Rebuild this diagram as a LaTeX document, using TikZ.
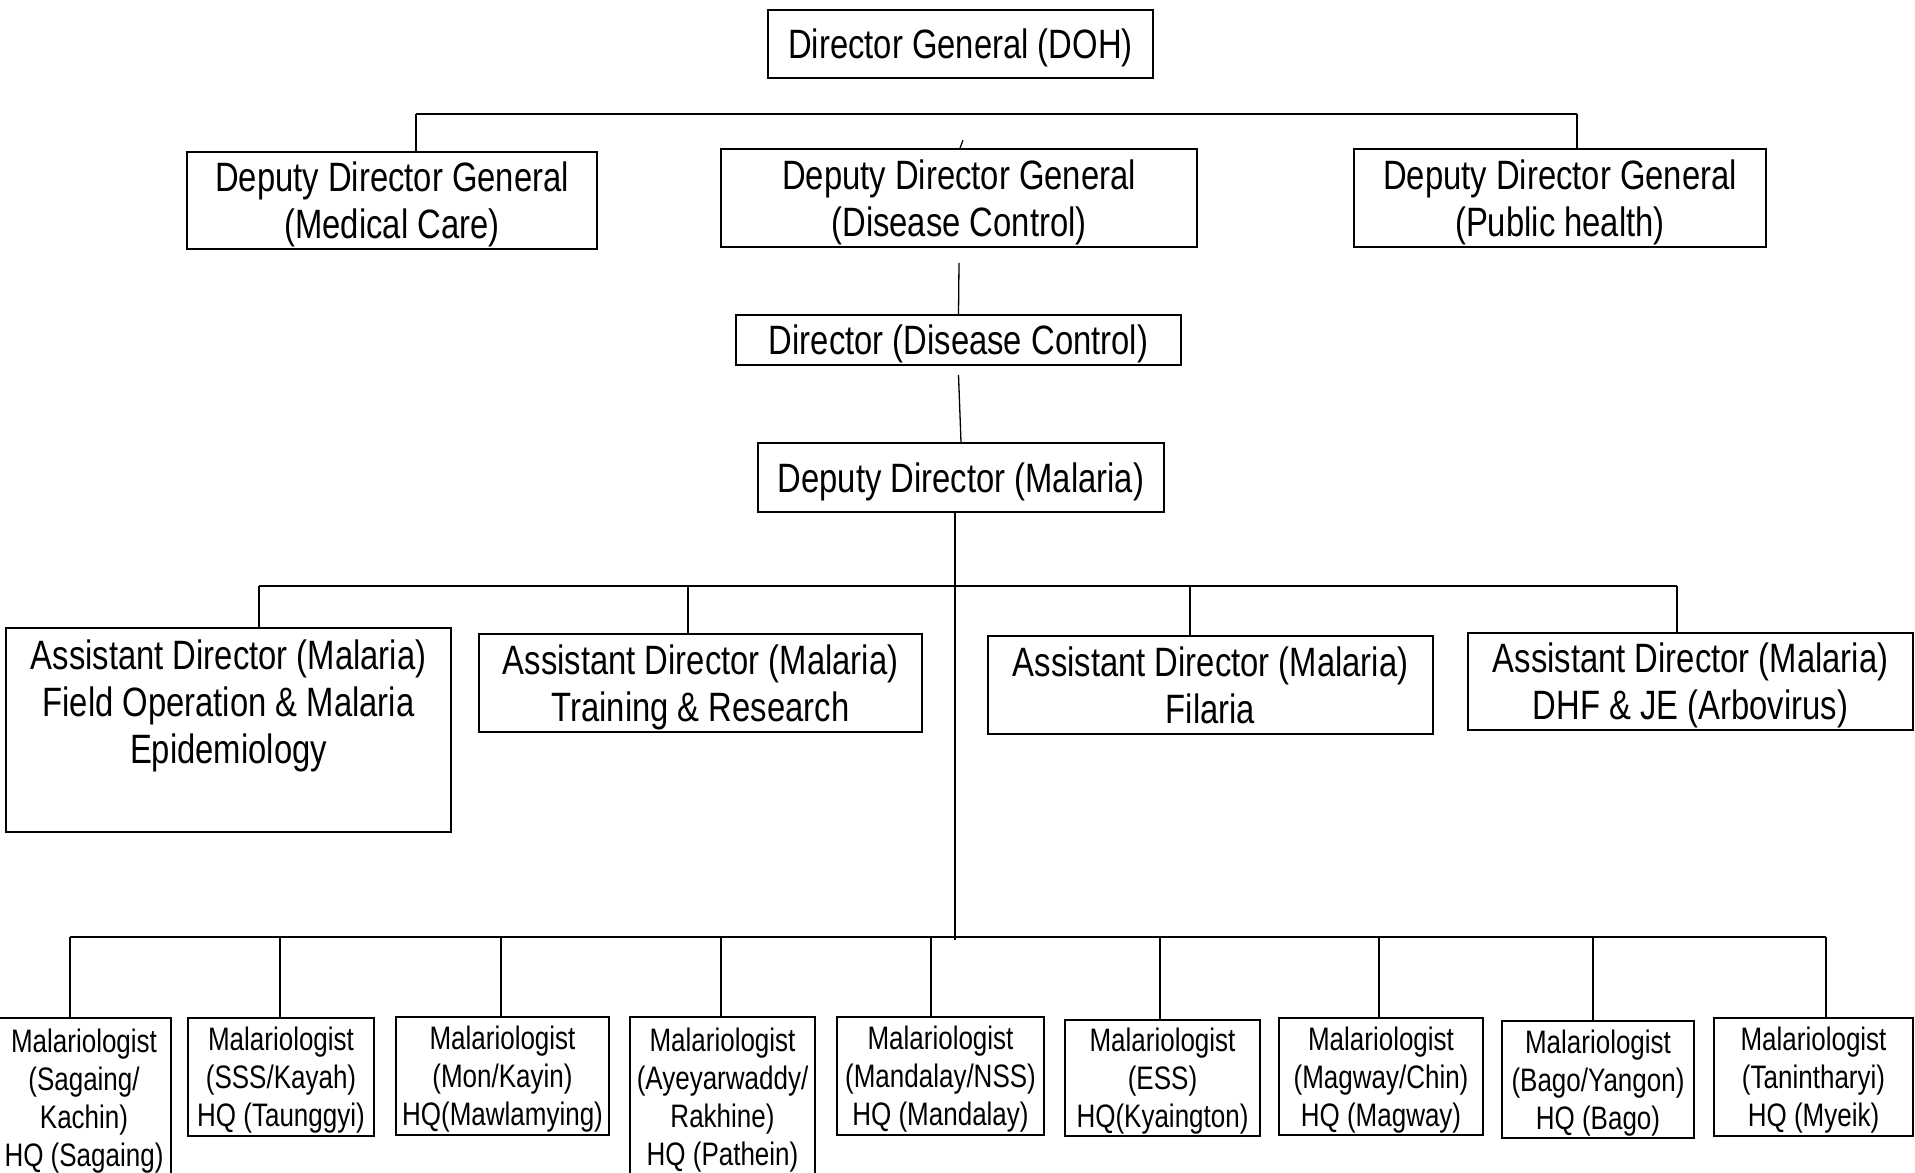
\documentclass[tikz,border=0pt]{standalone}
\usepackage{fontspec}
\setmainfont{Liberation Sans}[FakeStretch=0.8]
\usetikzlibrary{calc}

\begin{document}
\begin{tikzpicture}[x=1pt, y=-1pt,
    post/.style={draw, line width=1.6pt, inner sep=0pt, align=center, text depth=0pt,
      font=\fontsize{41}{47}\selectfont},
    field/.style={draw, line width=1.6pt, inner sep=0pt, align=center, text depth=0pt,
      font=\fontsize{32.5}{38}\selectfont},
    link/.style={line width=1.3pt},
    bus/.style={line width=2.6pt}]

  % Page of 1915 by 1173, y running downwards as in the scan.
  \useasboundingbox (0,0) rectangle (1915,1173);

  % Head office and its three deputies.
  \node[post, minimum width=385pt, minimum height=68pt] (dg) at (960.5,44) {Director General (DOH)};
  \node[post, minimum width=410pt, minimum height=97pt] (ddgmed) at (392,200.5)
    {Deputy Director General\\(Medical Care)};
  \node[post, minimum width=476pt, minimum height=98pt] (ddgdis) at (959,198)
    {Deputy Director General\\(Disease Control)};
  \node[post, minimum width=412pt, minimum height=98pt] (ddgpub) at (1560,198)
    {Deputy Director General\\(Public health)};

  \node[post, minimum width=445pt, minimum height=50pt] (dirdc) at (958.5,340) {Director (Disease Control)};
  \node[post, minimum width=406pt, minimum height=69pt] (ddm) at (961,477.5) {Deputy Director (Malaria)};

  % Assistant directors; the first box keeps its text at the top.
  \node[post, minimum width=445pt, minimum height=204pt, text depth=56pt] (ad1) at (228.5,730)
    {Assistant Director (Malaria)\\Field Operation \& Malaria\\Epidemiology};
  \node[post, minimum width=443pt, minimum height=98pt] (ad2) at (700.5,683)
    {Assistant Director (Malaria)\\Training \& Research};
  \node[post, minimum width=445pt, minimum height=98pt] (ad3) at (1210.5,685)
    {Assistant Director (Malaria)\\Filaria};
  \node[post, minimum width=445pt, minimum height=97pt] (ad4) at (1690.5,681.5)
    {Assistant Director (Malaria)\\DHF \& JE (Arbovirus)};

  % Regional malariologists; two boxes run off the foot of the page.
  \node[field, minimum width=174pt, minimum height=160pt] (m1) at (84,1098)
    {Malariologist\\(Sagaing/\\Kachin)\\HQ (Sagaing)};
  \node[field, minimum width=186pt, minimum height=118pt] (m2) at (281,1077)
    {Malariologist\\(SSS/Kayah)\\HQ (Taunggyi)};
  \node[field, minimum width=213pt, minimum height=118pt] (m3) at (502.5,1076)
    {Malariologist\\(Mon/Kayin)\\HQ(Mawlamying)};
  \node[field, minimum width=185pt, minimum height=160pt] (m4) at (722.5,1097)
    {Malariologist\\(Ayeyarwaddy/\\Rakhine)\\HQ (Pathein)};
  \node[field, minimum width=207pt, minimum height=118pt] (m5) at (940.5,1076)
    {Malariologist\\(Mandalay/NSS)\\HQ (Mandalay)};
  \node[field, minimum width=195pt, minimum height=116pt] (m6) at (1162.5,1078)
    {Malariologist\\(ESS)\\HQ(Kyaington)};
  \node[field, minimum width=204pt, minimum height=117pt] (m7) at (1381,1076.5)
    {Malariologist\\(Magway/Chin)\\HQ (Magway)};
  \node[field, minimum width=192pt, minimum height=117pt] (m8) at (1598,1079.5)
    {Malariologist\\(Bago/Yangon)\\HQ (Bago)};
  \node[field, minimum width=199pt, minimum height=118pt] (m9) at (1813.5,1077)
    {Malariologist\\(Tanintharyi)\\HQ (Myeik)};

  % Top bar: it is not joined to the Director General box.
  \coordinate (topL) at (416,114);
  \coordinate (topR) at (1577,114);
  \draw[bus] (topL) -- (topR);
  \draw[link] (topL) -- (topL |- ddgmed.north);
  \draw[link] (topR) -- (topR |- ddgpub.north);
  \draw[link] ([xshift=1pt]ddgdis.north) -- ++(3,-8);

  % Down the disease control line.
  \draw[link] ([yshift=-15pt]ddgdis.south) -- (dirdc.north);
  \draw[link] ([yshift=-9pt]dirdc.south) -- (ddm.north);
  \coordinate (spine) at (955,940);
  \draw[link] (ddm.south -| spine) -- (spine);

  % Bar to the assistant directors.
  \draw[bus] (259,586) coordinate (midL) -- (1677,586) coordinate (midR);
  \foreach \x/\n in {259/1, 688/2, 1190/3, 1677/4} {
    \coordinate (a\n) at (\x,586);
    \draw[link] (a\n) -- (a\n |- ad\n.north);
  }

  % Bar to the malariologists.
  \draw[bus] (70,937) coordinate (lowL) -- (1826,937) coordinate (lowR);
  \foreach \x/\n in {70/1, 280/2, 501/3, 721/4, 931/5, 1160/6, 1379/7, 1593/8, 1826/9} {
    \coordinate (b\n) at (\x,937);
    \draw[link] (b\n) -- (b\n |- m\n.north);
  }

\end{tikzpicture}
\end{document}
